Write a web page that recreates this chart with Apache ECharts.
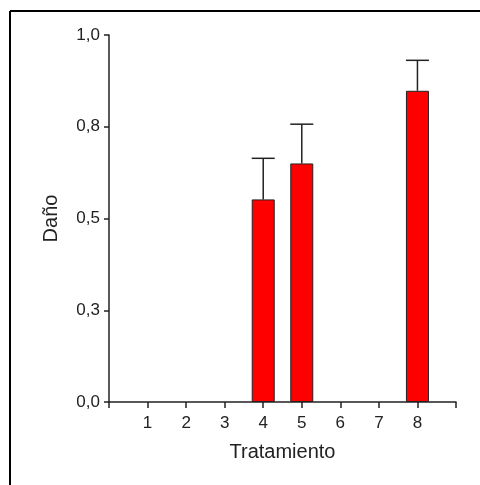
<!DOCTYPE html>
<html>
<head>
<meta charset="utf-8">
<script src="https://cdn.jsdelivr.net/npm/echarts@6/dist/echarts.min.js"></script>
<style>
  html, body { margin: 0; padding: 0; background: #fff; }
  #chart { width: 480px; height: 485px; }
</style>
</head>
<body>
<div id="chart"></div>
<script>
// tratamientos en el eje x
const tratamientos = [1, 2, 3, 4, 5, 6, 7, 8]
// daño medio por tratamiento
const dano = [0, 0, 0, 0.552, 0.650, 0, 0, 0.848]
// extremo superior de la barra de error
const errorSup = [0, 0, 0, 0.664, 0.757, 0, 0, 0.931]
const yTicks = [0, 0.25, 0.5, 0.75, 1.0]

const chart = echarts.init(document.getElementById('chart'))

const font = 'Liberation Sans, Arial, sans-serif'
const barW = 23

const option = {
  animation: false,
  backgroundColor: '#fff',
  graphic: [
    { type: 'line', shape: { x1: 10, y1: 11, x2: 480, y2: 11 }, style: { stroke: '#000', lineWidth: 2 } },
    { type: 'line', shape: { x1: 10, y1: 11, x2: 10, y2: 485 }, style: { stroke: '#000', lineWidth: 2 } }
  ],
  grid: { left: 109, right: 24, top: 35, bottom: 83 },
  xAxis: {
    type: 'value',
    min: 0,
    max: 9,
    interval: 1,
    name: 'Tratamiento',
    nameLocation: 'middle',
    nameGap: 40,
    nameTextStyle: { fontFamily: font, fontSize: 20, color: '#222' },
    axisLine: { lineStyle: { color: '#222', width: 1.5 } },
    axisTick: { length: 6, lineStyle: { color: '#222', width: 1.5 } },
    axisLabel: {
      fontFamily: font,
      fontSize: 17,
      color: '#222',
      margin: 13,
      formatter: v => (tratamientos.includes(v) ? String(v) : '')
    },
    splitLine: { show: false }
  },
  yAxis: {
    type: 'value',
    min: yTicks[0],
    max: yTicks[yTicks.length - 1],
    interval: 0.25,
    name: 'Daño',
    nameLocation: 'middle',
    nameGap: 48,
    nameRotate: 90,
    nameTextStyle: { fontFamily: font, fontSize: 20, color: '#222' },
    axisLine: { show: true, lineStyle: { color: '#222', width: 1.5 } },
    axisTick: { show: true, length: 5, lineStyle: { color: '#222', width: 1.5 } },
    axisLabel: {
      fontFamily: font,
      fontSize: 17,
      color: '#222',
      margin: 9,
      formatter: v => v.toFixed(1).replace('.', ',')
    },
    splitLine: { show: false }
  },
  series: [
    {
      type: 'bar',
      barWidth: barW,
      itemStyle: { color: '#ff0000', borderColor: '#222', borderWidth: 1 },
      data: tratamientos.map((t, i) => [t, dano[i]]).filter(d => d[1] > 0),
      z: 2
    },
    {
      type: 'custom',
      z: 3,
      data: tratamientos.map((t, i) => [t, dano[i], errorSup[i]]).filter(d => d[2] > d[1]),
      renderItem: (params, api) => {
        const x = api.value(0)
        const base = api.coord([x, api.value(1)])
        const top = api.coord([x, api.value(2)])
        const half = barW / 2
        const style = { stroke: '#222', lineWidth: 1.5 }
        return {
          type: 'group',
          children: [
            { type: 'line', shape: { x1: base[0], y1: base[1], x2: top[0], y2: top[1] }, style },
            { type: 'line', shape: { x1: top[0] - half, y1: top[1], x2: top[0] + half, y2: top[1] }, style }
          ]
        }
      }
    }
  ]
}

chart.setOption(option)
</script>
</body>
</html>
